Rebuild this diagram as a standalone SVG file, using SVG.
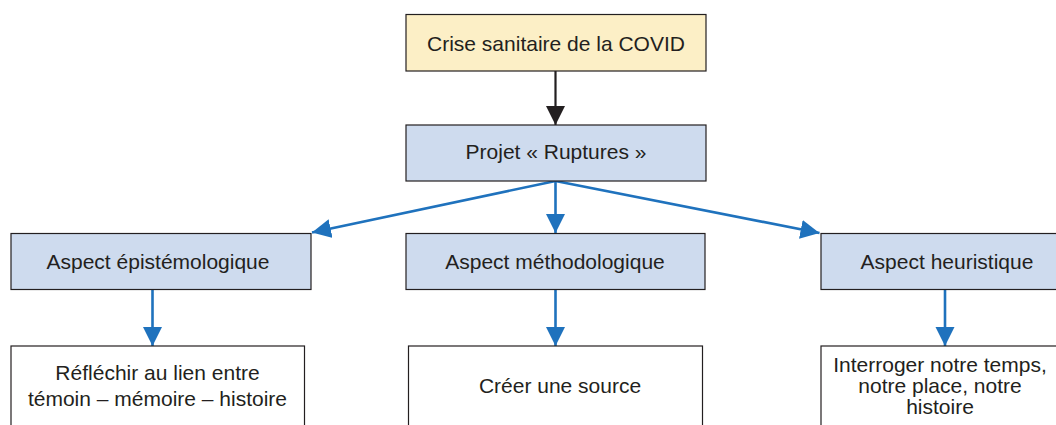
<svg xmlns="http://www.w3.org/2000/svg" width="1056" height="425" viewBox="0 0 1056 425">
<defs>
<style>
.box{stroke:#231f20;stroke-width:1.2}
.top{fill:#fcefc6}
.asp{fill:#cedbee}
.res{fill:#ffffff}
text{font-family:"Liberation Sans",Arial,sans-serif;font-size:21px;fill:#231f20;text-anchor:middle}
.blue{stroke:#1f72bd;stroke-width:2.6;fill:none}
.black{stroke:#231f20;stroke-width:2.2;fill:none}
</style>
<marker id="ab" markerUnits="userSpaceOnUse" markerWidth="20" markerHeight="20" refX="19" refY="9.5" orient="auto"><path d="M0,0 L19,9.5 L0,19 z" fill="#1f72bd"/></marker>
<marker id="ak" markerUnits="userSpaceOnUse" markerWidth="20" markerHeight="20" refX="19" refY="9.5" orient="auto"><path d="M0,0 L19,9.5 L0,19 z" fill="#231f20"/></marker>
</defs>
<rect width="1056" height="425" fill="#ffffff"/>
<g id="connectors">
<line class="black" x1="555.5" y1="71" x2="555.5" y2="125" marker-end="url(#ak)"/>
<line class="blue" x1="555.5" y1="181" x2="312" y2="232.5" marker-end="url(#ab)"/>
<line class="blue" x1="555.5" y1="181" x2="555.5" y2="233" marker-end="url(#ab)"/>
<line class="blue" x1="555.5" y1="181" x2="819.5" y2="233" marker-end="url(#ab)"/>
<line class="blue" x1="152.5" y1="289" x2="152.5" y2="346" marker-end="url(#ab)"/>
<line class="blue" x1="555.5" y1="289" x2="555.5" y2="346" marker-end="url(#ab)"/>
<line class="blue" x1="945" y1="289" x2="945" y2="346" marker-end="url(#ab)"/>
</g>
<g id="crise">
<rect class="box top" x="406" y="14.5" width="300" height="56.5"/>
<text x="556" y="50.5">Crise sanitaire de la COVID</text>
</g>
<g id="projet">
<rect class="box asp" x="406" y="125" width="300" height="56"/>
<text x="556" y="158.5">Projet « Ruptures »</text>
</g>
<g id="episte">
<rect class="box asp" x="11" y="233.5" width="300" height="56"/>
<text x="158" y="269">Aspect épistémologique</text>
</g>
<g id="metho">
<rect class="box asp" x="406" y="233.5" width="299" height="56"/>
<text x="555" y="269">Aspect méthodologique</text>
</g>
<g id="heur">
<rect class="box asp" x="821" y="233.5" width="250" height="56"/>
<text x="947" y="269">Aspect heuristique</text>
</g>
<g id="reflechir">
<rect class="box res" x="11" y="346" width="293.5" height="100"/>
<text x="157.5" y="380">Réfléchir au lien entre</text>
<text x="157.5" y="406">témoin – mémoire – histoire</text>
</g>
<g id="creer">
<rect class="box res" x="408.5" y="346" width="294" height="100"/>
<text x="560" y="392.5">Créer une source</text>
</g>
<g id="interroger">
<rect class="box res" x="821" y="346" width="250" height="100"/>
<text x="940" y="371.5">Interroger notre temps,</text>
<text x="940" y="392.5">notre place, notre</text>
<text x="940" y="414">histoire</text>
</g>
</svg>
